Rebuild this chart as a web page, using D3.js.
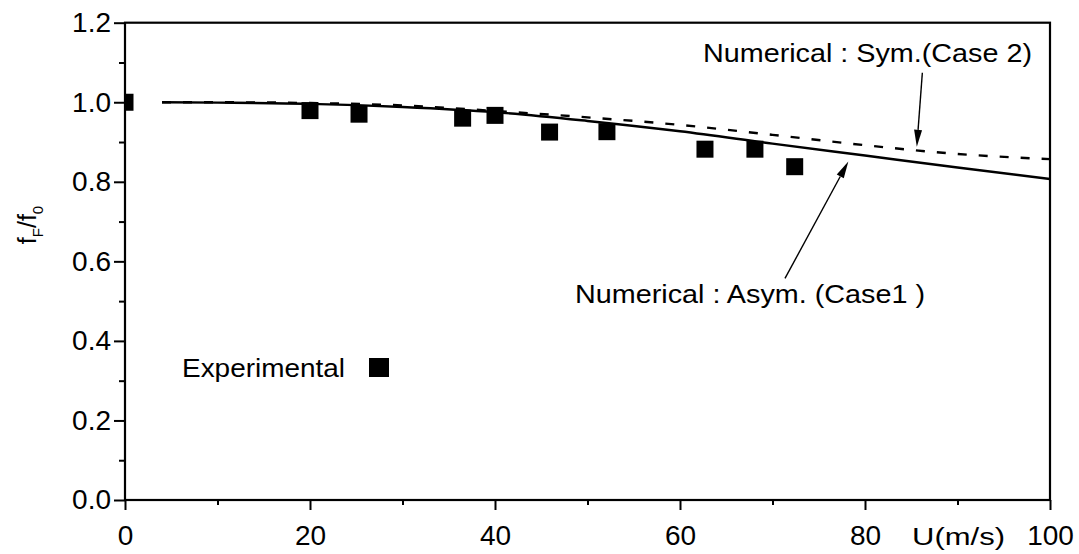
<!DOCTYPE html>
<html><head><meta charset="utf-8">
<script src="https://cdn.jsdelivr.net/npm/d3@7"></script>
<style>body{margin:0;background:#fff} svg{display:block}</style>
</head><body>
<svg id="c" width="1079" height="554"></svg>
<script>
// ---- data ----
const expU = [0, 20, 25.3, 36.5, 40, 45.9, 52.1, 62.7, 68.1, 72.4];
const expV = [1.000, 0.979, 0.970, 0.960, 0.967, 0.925, 0.926, 0.882, 0.882, 0.838];
const curveU = [4, 10, 20, 30, 40, 50, 60, 70, 80, 90, 100];
const asymV = [1.000, 0.999, 0.996, 0.988, 0.975, 0.953, 0.927, 0.896, 0.866, 0.836, 0.807];
const symV  = [1.000, 1.000, 0.998, 0.992, 0.978, 0.962, 0.943, 0.918, 0.892, 0.870, 0.857];
const xTickVals = [0, 20, 40, 60, 80, 100];
const xMinorVals = [10, 30, 50, 70, 90];
const yTickVals = [0, 0.2, 0.4, 0.6, 0.8, 1.0, 1.2];
const yMinorVals = [0.1, 0.3, 0.5, 0.7, 0.9, 1.1];
const labels = {
  sym: "Numerical : Sym.(Case 2)",
  asym: "Numerical : Asym. (Case1 )",
  exp: "Experimental",
  xTitle: "U(m/s)"
};

// ---- layout ----
const L = 125, R = 1050, T = 22.7, B = 500;
const svg = d3.select("#c");
const x = d3.scaleLinear().domain([0, 100]).range([L, R]);
const y = d3.scaleLinear().domain([0, 1.2]).range([B, T]);
const font = "'Liberation Sans', Arial, sans-serif";

svg.append("defs").append("clipPath").attr("id", "clip")
  .append("rect").attr("x", L).attr("y", T).attr("width", R - L).attr("height", B - T);

// curves
const line = d3.line().x(d => x(d[0])).y(d => y(d[1])).curve(d3.curveMonotoneX);
svg.append("path").datum(curveU.map((u, i) => [u, asymV[i]]))
  .attr("d", line).attr("fill", "none").attr("stroke", "#000").attr("stroke-width", 2.4);
svg.append("path").datum(curveU.map((u, i) => [u, symV[i]]))
  .attr("d", line).attr("fill", "none").attr("stroke", "#000").attr("stroke-width", 2.4)
  .attr("stroke-dasharray", "9,12");

// experimental squares
const sq = 17;
svg.append("g").attr("clip-path", "url(#clip)").selectAll("rect")
  .data(expU.map((u, i) => [u, expV[i]])).join("rect")
  .attr("x", d => x(d[0]) - sq / 2).attr("y", d => y(d[1]) - sq / 2)
  .attr("width", sq).attr("height", sq).attr("fill", "#000");

// axes
const xAxis = svg.append("g").attr("transform", `translate(0,${B})`)
  .call(d3.axisBottom(x).tickValues(xTickVals).tickSize(10).tickPadding(15).tickFormat(d3.format("d")));
const xMinor = svg.append("g").attr("transform", `translate(0,${B})`)
  .call(d3.axisBottom(x).tickValues(xMinorVals).tickSize(5).tickFormat(""));
const yAxis = svg.append("g").attr("transform", `translate(${L},0)`)
  .call(d3.axisLeft(y).tickValues(yTickVals).tickSize(11).tickPadding(3).tickFormat(d3.format(".1f")));
const yMinor = svg.append("g").attr("transform", `translate(${L},0)`)
  .call(d3.axisLeft(y).tickValues(yMinorVals).tickSize(6).tickFormat(""));
[xAxis, xMinor, yAxis, yMinor].forEach(g => {
  g.select(".domain").remove();
  g.selectAll(".tick line").attr("stroke", "#000").attr("stroke-width", 2);
  g.selectAll("text").attr("font-family", font).attr("font-size", 28).attr("fill", "#000");
});

// frame
svg.append("rect").attr("x", L).attr("y", T).attr("width", R - L).attr("height", B - T)
  .attr("fill", "none").attr("stroke", "#000").attr("stroke-width", 2.2);

// x title
svg.append("text").attr("x", 912).attr("y", 545).attr("font-family", font).attr("font-size", 23)
  .attr("textLength", 93).attr("lengthAdjust", "spacingAndGlyphs").text(labels.xTitle);

// y title
const yt = svg.append("text").attr("transform", "translate(36,225) rotate(-90)")
  .attr("text-anchor", "middle").attr("font-family", font).attr("font-size", 25);
yt.append("tspan").text("f");
yt.append("tspan").attr("font-size", 15).attr("dy", 7).text("F");
yt.append("tspan").attr("dy", -7).text("/f");
yt.append("tspan").attr("font-size", 15).attr("dy", 7).text("0");

// annotations
svg.append("text").attr("x", 703).attr("y", 62).attr("font-family", font).attr("font-size", 26)
  .attr("textLength", 329).attr("lengthAdjust", "spacingAndGlyphs").text(labels.sym);
svg.append("text").attr("x", 575).attr("y", 303).attr("font-family", font).attr("font-size", 25)
  .attr("textLength", 350).attr("lengthAdjust", "spacingAndGlyphs").text(labels.asym);
svg.append("text").attr("x", 182).attr("y", 377).attr("font-family", font).attr("font-size", 25)
  .attr("textLength", 163).attr("lengthAdjust", "spacingAndGlyphs").text(labels.exp);
svg.append("rect").attr("x", 369).attr("y", 358).attr("width", 20).attr("height", 19).attr("fill", "#000");

// arrows (data coordinates)
function arrow(u0, v0, u1, v1) {
  const x0 = x(u0), y0 = y(v0), x1 = x(u1), y1 = y(v1);
  const ang = Math.atan2(y1 - y0, x1 - x0), len = 17, hw = 4;
  const bx = x1 - len * Math.cos(ang), by = y1 - len * Math.sin(ang);
  svg.append("line").attr("x1", x0).attr("y1", y0).attr("x2", bx).attr("y2", by)
    .attr("stroke", "#000").attr("stroke-width", 1.4);
  const px = -Math.sin(ang) * hw, py = Math.cos(ang) * hw;
  svg.append("path").attr("d", `M${x1},${y1}L${bx + px},${by + py}L${bx - px},${by - py}Z`).attr("fill", "#000");
}
arrow(86.2, 1.074, 85.6, 0.888);
arrow(71.35, 0.557, 78.2, 0.851);
</script>
</body></html>
